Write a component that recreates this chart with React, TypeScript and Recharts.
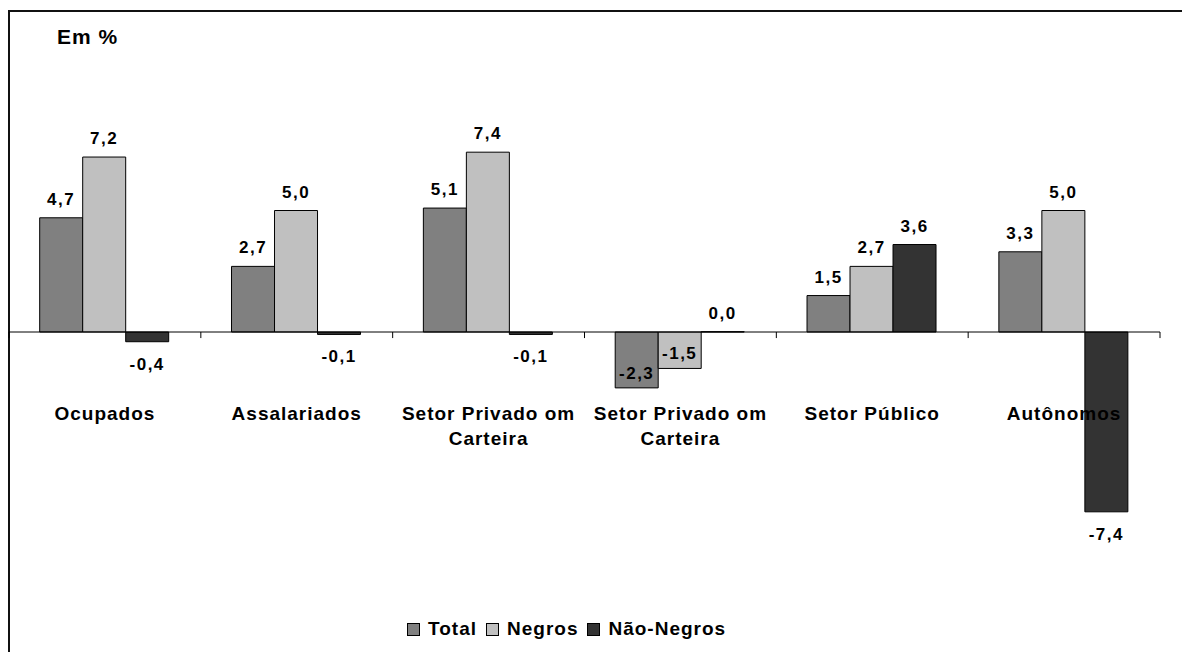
import { BarChart, Bar, XAxis, YAxis, ReferenceLine } from "recharts";

const categories = [
  "Ocupados",
  "Assalariados",
  "Setor Privado om\nCarteira",
  "Setor Privado om\nCarteira",
  "Setor Público",
  "Autônomos",
];
const total = [4.7, 2.7, 5.1, -2.3, 1.5, 3.3];
const negros = [7.2, 5.0, 7.4, -1.5, 2.7, 5.0];
const naoNegros = [-0.4, -0.1, -0.1, 0.0, 3.6, -7.4];

const series = [
  { key: "total", name: "Total", color: "#808080" },
  { key: "negros", name: "Negros", color: "#C0C0C0" },
  { key: "naoNegros", name: "Não-Negros", color: "#333333" },
];

// categories whose negative labels sit inside the bar end
const insideLabels = [3];

const data = categories.map((label, i) => ({
  id: String(i),
  label,
  total: total[i],
  negros: negros[i],
  naoNegros: naoNegros[i],
}));

const FONT = '"Liberation Sans", Arial, sans-serif';

const fmt = (v: number) => v.toFixed(1).replace(".", ",");

const ValueLabel = (props: any) => {
  const { x, y, width, height, value, index } = props;
  const h = height || 0;
  const top = Math.min(y, y + h);
  const bottom = Math.max(y, y + h);
  let ty = top - 13;
  if (value < 0) ty = insideLabels.includes(index) ? bottom - 9 : bottom + 28;
  return (
    <text
      x={x + width / 2}
      y={ty}
      textAnchor="middle"
      fontFamily={FONT}
      fontWeight="bold"
      fontSize={17}
      letterSpacing={1.5}
      fill="#000"
    >
      {fmt(Number(value))}
    </text>
  );
};

const CategoryTick = (props: any) => {
  const { x, y, payload } = props;
  const lines = categories[Number(payload.value)].split("\n");
  return (
    <text
      x={x}
      y={y - 155}
      textAnchor="middle"
      fontFamily={FONT}
      fontWeight="bold"
      fontSize={19}
      letterSpacing={1}
      fill="#000"
    >
      {lines.map((l, i) => (
        <tspan key={i} x={x} dy={i === 0 ? 0 : 25}>
          {l}
        </tspan>
      ))}
    </text>
  );
};

// keep zero-valued bars (and their labels) in the render
const zeroSize = (v: any) => (Number(v) === 0 ? 0.3 : 0);

export default function App() {
  return (
    <div
      style={{
        position: "absolute",
        left: 0,
        top: 0,
        width: 1182,
        height: 652,
        overflow: "hidden",
        background: "#fff",
      }}
    >
      <div
        style={{
          position: "absolute",
          left: 8,
          top: 10,
          width: 1200,
          height: 700,
          borderTop: "2px solid #111",
          borderLeft: "2px solid #111",
        }}
      />
      <div
        style={{
          position: "absolute",
          left: 57,
          top: 25,
          fontFamily: FONT,
          fontWeight: "bold",
          fontSize: 21,
          letterSpacing: 1,
        }}
      >
        Em %
      </div>
      <div style={{ position: "absolute", left: 0, top: 0 }}>
        <BarChart
          width={1182}
          height={652}
          data={data}
          margin={{ top: 89, right: 22, bottom: 76, left: 9 }}
          barCategoryGap="16%"
          barGap={0}
        >
          <XAxis
            dataKey="id"
            height={1}
            tickSize={0}
            tickMargin={0}
            axisLine={false}
            tickLine={false}
            interval={0}
            tick={<CategoryTick />}
          />
          <YAxis hide domain={[-10, 10]} />
          {series.map((s) => (
            <Bar
              key={s.key}
              dataKey={s.key}
              name={s.name}
              fill={s.color}
              stroke="#000"
              strokeWidth={1}
              minPointSize={zeroSize}
              isAnimationActive={false}
              label={<ValueLabel />}
            />
          ))}
          <ReferenceLine y={0} stroke="#000" strokeWidth={1} />
          {data.map((d) => (
            <ReferenceLine
              key={"t" + d.id}
              segment={[
                { x: d.id, y: 0 },
                { x: d.id, y: -0.25 },
              ]}
              position="start"
              stroke="#000"
            />
          ))}
          <ReferenceLine
            segment={[
              { x: data[data.length - 1].id, y: 0 },
              { x: data[data.length - 1].id, y: -0.25 },
            ]}
            position="end"
            stroke="#000"
          />
        </BarChart>
      </div>
      <div
        style={{
          position: "absolute",
          left: 407,
          top: 618,
          display: "flex",
          alignItems: "center",
          fontFamily: FONT,
          fontWeight: "bold",
          fontSize: 19,
          letterSpacing: 1,
        }}
      >
        {series.map((s) => (
          <div key={s.key} style={{ display: "flex", alignItems: "center", marginRight: 9 }}>
            <span
              style={{
                display: "inline-block",
                width: 11,
                height: 11,
                background: s.color,
                border: "1px solid #000",
                marginRight: 8,
              }}
            />
            <span>{s.name}</span>
          </div>
        ))}
      </div>
    </div>
  );
}
